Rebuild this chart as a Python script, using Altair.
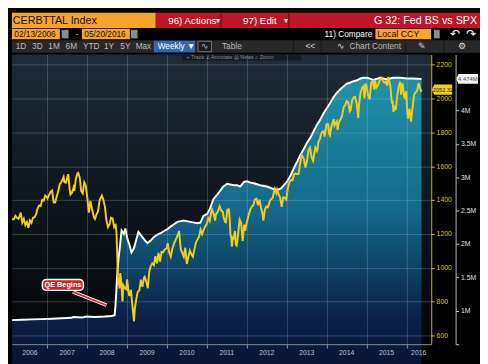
import altair as alt
import pandas as pd

# ---------------- data ----------------
spx_dates = [
    "2006-02-13","2006-03-03","2006-03-17","2006-03-31","2006-04-14","2006-04-28","2006-05-05","2006-05-19","2006-06-02","2006-06-16","2006-06-30","2006-07-14","2006-07-28","2006-08-11","2006-08-25","2006-09-08","2006-09-22","2006-10-06","2006-10-20","2006-11-03","2006-11-17","2006-12-01","2006-12-15","2006-12-29",
    "2007-01-05","2007-01-19","2007-02-02","2007-02-16","2007-03-02","2007-03-16","2007-03-30","2007-04-13","2007-04-27","2007-05-11","2007-06-01","2007-06-08","2007-06-22","2007-07-13","2007-07-27","2007-08-03","2007-08-17","2007-08-31","2007-09-07","2007-09-21","2007-10-05","2007-10-12","2007-10-26","2007-11-09","2007-11-23","2007-12-07","2007-12-21",
    "2008-01-04","2008-01-18","2008-02-01","2008-02-15","2008-03-07","2008-03-14","2008-03-28","2008-04-11","2008-04-25","2008-05-16","2008-05-30","2008-06-13","2008-06-27","2008-07-11","2008-07-25","2008-08-08","2008-08-22","2008-09-05","2008-09-12","2008-09-19","2008-09-26","2008-10-03","2008-10-10","2008-10-17","2008-10-24","2008-10-31","2008-11-07","2008-11-14","2008-11-21","2008-11-28","2008-12-12","2008-12-26",
    "2009-01-02","2009-01-09","2009-01-16","2009-01-23","2009-02-06","2009-02-20","2009-03-06","2009-03-13","2009-03-27","2009-04-09","2009-04-24","2009-05-08","2009-05-22","2009-06-05","2009-06-12","2009-06-26","2009-07-10","2009-07-24","2009-08-07","2009-08-21","2009-09-04","2009-09-18","2009-10-02","2009-10-16","2009-10-30","2009-11-13","2009-11-27","2009-12-11","2009-12-31",
    "2010-01-08","2010-01-22","2010-02-05","2010-02-19","2010-03-05","2010-03-19","2010-04-02","2010-04-23","2010-05-07","2010-05-21","2010-06-04","2010-06-18","2010-07-02","2010-07-16","2010-07-30","2010-08-13","2010-08-27","2010-09-10","2010-09-24","2010-10-08","2010-10-22","2010-11-05","2010-11-19","2010-12-03","2010-12-17","2010-12-31",
    "2011-01-14","2011-01-28","2011-02-11","2011-02-18","2011-03-04","2011-03-18","2011-03-25","2011-04-08","2011-04-29","2011-05-13","2011-05-27","2011-06-03","2011-06-17","2011-06-24","2011-07-08","2011-07-22","2011-07-29","2011-08-05","2011-08-12","2011-08-19","2011-08-26","2011-09-02","2011-09-16","2011-09-23","2011-09-30","2011-10-07","2011-10-28","2011-11-11","2011-11-25","2011-12-09","2011-12-16","2011-12-30",
    "2012-01-06","2012-01-20","2012-02-03","2012-02-17","2012-03-02","2012-03-16","2012-03-30","2012-04-13","2012-04-27","2012-05-11","2012-05-25","2012-06-01","2012-06-15","2012-06-29","2012-07-13","2012-07-27","2012-08-10","2012-08-24","2012-09-14","2012-09-28","2012-10-05","2012-10-19","2012-11-02","2012-11-16","2012-11-30","2012-12-14","2012-12-28",
    "2013-01-11","2013-01-25","2013-02-08","2013-02-22","2013-03-08","2013-03-22","2013-04-05","2013-04-19","2013-05-03","2013-05-17","2013-06-07","2013-06-21","2013-07-05","2013-07-19","2013-08-02","2013-08-16","2013-08-30","2013-09-20","2013-10-04","2013-10-11","2013-10-18","2013-11-01","2013-11-15","2013-11-29","2013-12-06","2013-12-13","2013-12-31",
    "2014-01-15","2014-01-24","2014-01-31","2014-02-14","2014-03-07","2014-03-14","2014-03-28","2014-04-04","2014-04-11","2014-04-25","2014-05-09","2014-05-23","2014-06-06","2014-06-20","2014-07-03","2014-07-18","2014-08-01","2014-08-08","2014-08-22","2014-09-05","2014-09-19","2014-10-03","2014-10-17","2014-10-24","2014-11-07","2014-11-21","2014-12-05","2014-12-12","2014-12-26",
    "2015-01-09","2015-01-16","2015-01-30","2015-02-13","2015-02-27","2015-03-13","2015-03-20","2015-04-02","2015-04-17","2015-05-01","2015-05-15","2015-05-29","2015-06-12","2015-06-26","2015-07-10","2015-07-17","2015-08-07","2015-08-21","2015-08-28","2015-09-04","2015-09-18","2015-09-25","2015-10-09","2015-10-23","2015-11-06","2015-11-13","2015-11-27","2015-12-11","2015-12-18","2015-12-31",
    "2016-01-08","2016-01-15","2016-01-29","2016-02-12","2016-02-26","2016-03-11","2016-03-24","2016-04-08","2016-04-22","2016-05-06","2016-05-13","2016-05-20",
]
spx_values = [
    1287,1287,1307,1295,1289,1311,1326,1267,1288,1252,1270,1236,1279,1266,1295,1299,1315,1350,1368,1364,1401,1397,1427,1418,
    1410,1430,1449,1456,1387,1386,1421,1453,1494,1505,1536,1507,1503,1553,1459,1433,1445,1474,1454,1525,1557,1561,1535,1453,1440,1504,1484,
    1411,1325,1395,1349,1293,1288,1316,1333,1398,1426,1400,1360,1278,1240,1257,1296,1292,1242,1252,1255,1213,1099,899,940,877,968,930,873,800,896,879,872,
    931,890,850,832,869,770,683,756,816,857,866,929,887,940,946,919,879,979,1010,1026,1016,1068,1025,1087,1036,1093,1091,1106,1115,
    1145,1092,1066,1109,1139,1160,1179,1217,1111,1087,1065,1118,1022,1065,1102,1079,1065,1110,1149,1166,1183,1225,1199,1224,1244,1258,
    1293,1276,1329,1343,1321,1279,1314,1328,1363,1338,1331,1300,1271,1268,1344,1345,1292,1199,1179,1124,1177,1174,1216,1136,1131,1155,1285,1264,1159,1255,1219,1258,
    1278,1315,1345,1361,1370,1404,1408,1370,1403,1353,1318,1278,1343,1362,1357,1386,1406,1411,1466,1441,1461,1433,1414,1360,1416,1413,1402,
    1472,1503,1518,1516,1551,1556,1553,1555,1614,1667,1643,1592,1631,1692,1709,1655,1633,1710,1690,1703,1744,1761,1798,1806,1805,1775,1848,
    1848,1790,1782,1838,1878,1841,1857,1865,1815,1863,1878,1900,1949,1962,1985,1978,1925,1931,1988,2007,2010,1968,1886,1964,2032,2064,2075,2002,2088,
    2045,2019,1995,2096,2104,2053,2108,2067,2081,2108,2122,2107,2094,2101,2077,2127,2077,1971,1988,1921,1958,1931,2014,2075,2099,2023,2090,2012,2005,2044,
    1922,1880,1940,1865,1948,2022,2035,2047,2091,2057,2046,2052.32,
]

fed_dates = [
    "2006-02-15","2006-05-17","2006-08-16","2006-11-15",
    "2007-02-14","2007-05-16","2007-08-15","2007-08-29","2007-11-14","2007-12-26",
    "2008-03-12","2008-06-11","2008-08-13","2008-09-10","2008-09-17","2008-09-24","2008-10-01","2008-10-15","2008-10-29","2008-11-12","2008-12-03","2008-12-17",
    "2009-01-07","2009-01-21","2009-02-11","2009-03-04","2009-03-25","2009-04-15","2009-05-13","2009-06-10","2009-07-08","2009-08-05","2009-09-02","2009-10-07","2009-11-04","2009-12-02",
    "2010-01-06","2010-02-03","2010-03-03","2010-04-07","2010-06-02","2010-08-04","2010-10-06","2010-11-03","2010-12-01",
    "2011-01-05","2011-02-02","2011-03-02","2011-04-06","2011-05-04","2011-06-01","2011-07-06","2011-08-03","2011-09-07","2011-10-05","2011-11-02","2011-12-07",
    "2012-01-04","2012-02-01","2012-03-07","2012-05-02","2012-07-04","2012-09-05","2012-10-03","2012-11-07","2012-12-05",
    "2013-01-02","2013-02-06","2013-03-06","2013-04-03","2013-05-01","2013-06-05","2013-07-03","2013-08-07","2013-09-04","2013-10-02","2013-11-06","2013-12-04",
    "2014-01-08","2014-02-05","2014-03-05","2014-04-02","2014-05-07","2014-06-04","2014-07-02","2014-08-06","2014-09-03","2014-10-01","2014-11-05","2014-12-03",
    "2015-01-07","2015-03-04","2015-05-06","2015-07-01","2015-09-02","2015-11-04",
    "2016-01-06","2016-03-02","2016-05-18",
]
fed_values = [  # in millions of $M (axis unit "M")
    0.857,0.862,0.868,0.872,
    0.878,0.884,0.892,0.905,0.895,0.910,
    0.905,0.912,0.920,0.930,1.07,1.25,1.48,1.78,1.97,2.20,2.15,2.23,
    2.06,2.00,1.87,1.93,2.05,2.18,2.12,2.06,2.01,2.05,2.10,2.14,2.16,2.19,
    2.22,2.26,2.29,2.33,2.35,2.33,2.31,2.32,2.42,
    2.45,2.54,2.67,2.74,2.80,2.86,2.90,2.89,2.88,2.88,2.86,2.93,
    2.94,2.92,2.91,2.88,2.86,2.82,2.81,2.83,2.88,
    2.93,3.03,3.13,3.22,3.32,3.42,3.51,3.60,3.69,3.78,3.87,3.96,
    4.05,4.12,4.20,4.26,4.32,4.36,4.40,4.42,4.44,4.45,4.48,4.49,
    4.49,4.46,4.49,4.47,4.49,4.49,
    4.48,4.48,4.474,
]

year_labels = ["2006","2007","2008","2009","2010","2011","2012","2013","2014","2015","2016"]
year_label_dates = ["2006-07-29","2007-07-03","2008-07-02","2009-07-03","2010-07-03","2011-07-03",
                    "2012-07-02","2013-07-03","2014-07-03","2015-07-03","2016-04-22"]
grid_years = [2007, 2008, 2009, 2010, 2011, 2012, 2013, 2014, 2015, 2016]
spx_ticks = [600, 800, 1000, 1200, 1400, 1600, 1800, 2000, 2200]
fed_ticks = [0.5, 1.0, 1.5, 2.0, 2.5, 3.0, 3.5, 4.0]
last_spx = 2052.32
last_fed = 4.474
note_text = "QE Begins"
note_box = {"d1": "2006-11-19", "d2": "2007-11-29", "v1": 1.467, "v2": 1.303}
note_center = {"d": "2007-05-26", "v": 1.381}
note_pointer = {"d1": "2007-08-25", "v1": 1.281, "d2": "2008-06-27", "v2": 1.081}

assert len(spx_dates) == len(spx_values)
assert len(fed_dates) == len(fed_values)

# ---------------- frames ----------------
spx = pd.DataFrame({"date": pd.to_datetime(spx_dates), "value": spx_values})
fed = pd.DataFrame({"date": pd.to_datetime(fed_dates), "value": fed_values})
years = pd.DataFrame({"date": pd.to_datetime(year_label_dates), "label": year_labels})
spx_last = pd.DataFrame({"value": [last_spx], "label": [f"{last_spx:.2f}"]})
fed_last = pd.DataFrame({"value": [last_fed], "label": [f"{last_fed:.3f}M"]})
box_df = pd.DataFrame({"d1": [pd.Timestamp(note_box["d1"])], "d2": [pd.Timestamp(note_box["d2"])],
                       "v1": [note_box["v1"]], "v2": [note_box["v2"]]})
ctr_df = pd.DataFrame({"d": [pd.Timestamp(note_center["d"])], "v": [note_center["v"]], "t": [note_text]})
ptr_df = pd.DataFrame({"d1": [pd.Timestamp(note_pointer["d1"])], "d2": [pd.Timestamp(note_pointer["d2"])],
                       "v1": [note_pointer["v1"]], "v2": [note_pointer["v2"]]})
one = pd.DataFrame({"k": [0]})

FONT = "Liberation Sans, Arial, sans-serif"
HFONT = "Liberation Sans Narrow, Arial Narrow, Liberation Sans, sans-serif"
W, H = 430, 297
SX, SY = 480 / 488, 43 / 44

# ---------------- scales & axes ----------------
xscale = alt.Scale(domain=[alt.DateTime(year=2006, month=2, date=13),
                           alt.DateTime(year=2016, month=8, date=15)], nice=False)
xaxis = alt.Axis(values=[alt.DateTime(year=y, month=1, date=1) for y in grid_years],
                 labels=False, title=None, grid=True, gridColor="#a9bccd", gridOpacity=0.28,
                 tickColor="#8f8f8f", tickSize=4, domainColor="#8f8f8f", zindex=1)
spx_scale = alt.Scale(domain=[547.6, 2260.3], nice=False, zero=False)
spx_axis = alt.Axis(orient="right", values=spx_ticks, title=None, grid=True, gridColor="#a9bccd",
                    gridOpacity=0.28, labelColor="#d8c24a", tickColor="#d8c24a", domainColor="#c9b23a",
                    tickSize=3, labelFontSize=7, labelPadding=2, labelFont=FONT, format="d", zindex=1)
fed_scale = alt.Scale(domain=[0.496, 4.839], nice=False, zero=False)
fed_axis = alt.Axis(orient="right", offset=25, values=fed_ticks, title=None, grid=False,
                    labelColor="#e2e2e2", tickColor="#d0d0d0", domainColor="#b8b8b8", tickSize=3,
                    labelFontSize=7, labelPadding=2, labelFont=FONT,
                    labelExpr="datum.value < 0.9 ? '' : format(datum.value, '~g') + 'M'", zindex=1)


def X(f):
    return alt.X(f"{f}:T", scale=xscale, axis=xaxis)


def YF(f):
    return alt.Y(f"{f}:Q", scale=fed_scale, axis=fed_axis)


def YS(f):
    return alt.Y(f"{f}:Q", scale=spx_scale, axis=spx_axis)


bg_grad = alt.Gradient(gradient="linear", x1=0, x2=0, y1=0, y2=1,
                       stops=[alt.GradientStop(color="#1f2c38", offset=0),
                              alt.GradientStop(color="#0d141b", offset=0.55),
                              alt.GradientStop(color="#030507", offset=1)])
area_grad = alt.Gradient(gradient="linear", x1=0, x2=0, y1=0, y2=1,
                         stops=[alt.GradientStop(color="#1f93a9", offset=0),
                                alt.GradientStop(color="#14678a", offset=0.45),
                                alt.GradientStop(color="#0a2148", offset=0.8),
                                alt.GradientStop(color="#07122f", offset=1)])

background = alt.Chart(one).mark_rect(fill=bg_grad).encode(
    x=alt.value(0), x2=alt.value(W), y=alt.value(0), y2=alt.value(H))
area = alt.Chart(fed).mark_area(fill=area_grad, interpolate="linear").encode(
    x=X("date"), y=YF("value"), y2=alt.value(H))
white_line = alt.Chart(fed).mark_line(color="#ffffff", strokeWidth=2).encode(x=X("date"), y=YF("value"))
ptr_out = alt.Chart(ptr_df).mark_rule(color="#ffffff", strokeWidth=3.5).encode(
    x=X("d1"), x2="d2:T", y=YF("v1"), y2="v2:Q")
ptr_in = alt.Chart(ptr_df).mark_rule(color="#d2262e", strokeWidth=1.8).encode(
    x=X("d1"), x2="d2:T", y=YF("v1"), y2="v2:Q")
box = alt.Chart(box_df).mark_rect(fill="#c8222b", stroke="#ffffff", strokeWidth=1.5, cornerRadius=4).encode(
    x=X("d1"), x2="d2:T", y=YF("v1"), y2="v2:Q")
box_text = alt.Chart(ctr_df).mark_text(color="#ffffff", fontSize=7.5, fontWeight="bold", font=FONT,
                                       baseline="middle").encode(x=X("d"), y=YF("v"), text="t:N")
fed_tag = alt.Chart(fed_last).mark_point(
    shape="M-1,0L-0.8,-0.44L1,-0.44L1,0.44L-0.8,0.44Z", filled=True, size=500,
    color="#f4f4f4", opacity=1).encode(x=alt.value(W + 36.8), y=YF("value"))
fed_tag_text = alt.Chart(fed_last).mark_text(color="#4a4a4a", fontSize=6, font=FONT).encode(
    x=alt.value(W + 37.5), y=YF("value"), text="label:N")
year_text = alt.Chart(years).mark_text(color="#c6c6c6", fontSize=7, font=FONT).encode(
    x=X("date"), y=alt.value(H + 9), text="label:N")
toolbar_bg = alt.Chart(one).mark_rect(fill="#161b21").encode(
    x=alt.value(178 * SX), x2=alt.value(302 * SX), y=alt.value(0), y2=alt.value(6))
toolbar = alt.Chart(one).mark_text(text="+ Track    ∠ Annotate    ▤ News    ⌕ Zoom", color="#8c8c8c",
                                   fontSize=5.5, font=FONT, align="left", baseline="middle").encode(
    x=alt.value(182 * SX), y=alt.value(3))

fed_group = alt.layer(background, area, white_line, ptr_out, ptr_in, box, box_text,
                      fed_tag, fed_tag_text, year_text, toolbar_bg, toolbar)

yellow_line = alt.Chart(spx).mark_line(color="#f1cd1d", strokeWidth=2).encode(x=X("date"), y=YS("value"))
spx_tag = alt.Chart(spx_last).mark_point(
    shape="M-1,0L-0.75,-0.5L1,-0.5L1,0.5L-0.75,0.5Z", filled=True, size=441,
    color="#f1cd1d", opacity=1).encode(x=alt.value(W + 11), y=YS("value"))
spx_tag_text = alt.Chart(spx_last).mark_text(color="#1a1a1a", fontSize=5.8, font=FONT).encode(
    x=alt.value(W + 12), y=YS("value"), text="label:N")
spx_group = alt.layer(yellow_line, spx_tag, spx_tag_text)

main = alt.layer(fed_group, spx_group).resolve_scale(y="independent").properties(width=W, height=H)


# ---------------- header (terminal UI) ----------------
def hrect(x1, y1, x2, y2, fill, stroke=None):
    kw = {"fill": fill}
    if stroke:
        kw.update(stroke=stroke, strokeWidth=1)
    return alt.Chart(one).mark_rect(**kw).encode(
        x=alt.value(x1 * SX), x2=alt.value(x2 * SX), y=alt.value(y1 * SY), y2=alt.value(y2 * SY))


def htext(x, y, s, color="#ffffff", size=10, align="left", font=HFONT):
    return alt.Chart(one).mark_text(text=s, color=color, fontSize=size, align=align,
                                    baseline="middle", font=font).encode(
        x=alt.value(x * SX), y=alt.value(y * SY))


ORANGE, RED, GREY = "#f6a42c", "#be1628", "#bcbcbc"
hdr = [
    hrect(0, 0, 488, 44, "#000000"),
    hrect(0, 0, 150, 16, ORANGE),
    hrect(150, 0, 488, 16, RED),
    hrect(217, 0, 218.5, 16, "#76101a"),
    hrect(288, 0, 289.5, 16, "#76101a"),
    htext(1, 8.5, "CERBTTAL Index", "#121212", 11),
    htext(163, 8.5, "96) Actions", "#ffffff", 10),
    htext(213, 8.5, "▾", "#ffffff", 8),
    htext(241, 8.5, "97) Edit", "#ffffff", 10),
    htext(284, 8.5, "▾", "#ffffff", 8),
    htext(485, 8.5, "G 32: Fed BS vs SPX", "#ffffff", 11, align="right"),
    hrect(0, 17, 50, 28, ORANGE),
    htext(2.5, 22.5, "02/13/2006", "#121212", 8.5),
    hrect(52, 18, 59, 27, "#8c8c8c"),
    htext(66, 22.5, "-", ORANGE, 10),
    hrect(73, 17, 123, 28, ORANGE),
    htext(75.5, 22.5, "05/20/2016", "#121212", 8.5),
    hrect(124, 18, 131, 27, "#8c8c8c"),
    htext(326, 22.5, "11) Compare", "#ffffff", 8.5),
    hrect(379, 17, 437, 28, ORANGE),
    htext(381, 22.5, "Local CCY", "#121212", 9),
    hrect(440, 18, 446, 27, "#8c8c8c"),
    htext(462, 22.5, "↶", "#ffffff", 12, align="center", font=FONT),
    htext(479, 22.5, "↷", "#ffffff", 12, align="center", font=FONT),
    hrect(0, 29, 488, 42, "#282828"),
    htext(4, 35.5, "1D", GREY, 8.5),
    htext(21, 35.5, "3D", GREY, 8.5),
    htext(38, 35.5, "1M", GREY, 8.5),
    htext(56, 35.5, "6M", GREY, 8.5),
    htext(74, 35.5, "YTD", GREY, 8.5),
    htext(96, 35.5, "1Y", GREY, 8.5),
    htext(113, 35.5, "5Y", GREY, 8.5),
    htext(129, 35.5, "Max", GREY, 8.5),
    hrect(148, 29.5, 191, 41.5, "#3467b0"),
    htext(152, 35.5, "Weekly ▼", "#ffffff", 8.5),
    hrect(194, 30, 208, 41, "#1b1b1b", stroke="#777777"),
    htext(201, 35.5, "∿", "#8fb4e8", 9, align="center", font=FONT),
    htext(219, 35.5, "Table", GREY, 8.5),
    hrect(293, 29, 294, 42, "#161616"),
    htext(306, 35.5, "<<", "#dddddd", 8.5),
    hrect(322, 29, 323, 42, "#161616"),
    htext(343, 35.5, "∿", "#cccccc", 9, align="center", font=FONT),
    htext(352, 35.5, "Chart Content", GREY, 8.5),
    hrect(410, 29, 411, 42, "#161616"),
    htext(428, 35.5, "✎", "#dddddd", 9, align="center", font=FONT),
    hrect(450, 29, 451, 42, "#161616"),
    htext(469, 35.5, "⚙", "#dddddd", 9, align="center", font=FONT),
]
header = alt.layer(*hdr).properties(width=480, height=43)

chart = alt.vconcat(header, main, spacing=0).properties(
    background="#000000", padding=0
).configure_view(stroke=None).configure_concat(spacing=0)

chart.save("out.html", embed_options={"renderer": "svg", "actions": False})
